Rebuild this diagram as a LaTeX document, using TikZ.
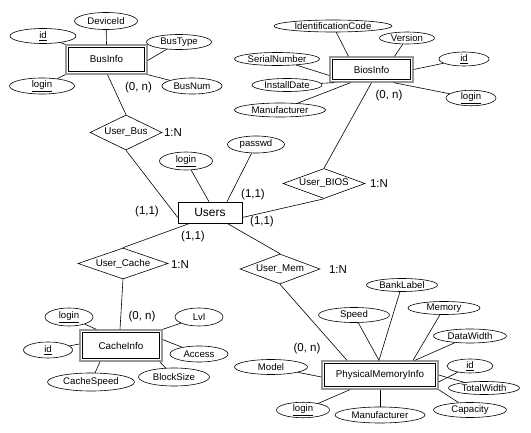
\documentclass[tikz,border=0pt]{standalone}
\usepackage{fontspec}
\setmainfont{Liberation Sans}
\usetikzlibrary{shapes.geometric}
\tikzset{
  attr/.style={draw, ellipse, inner sep=0pt, font=\fontsize{9.6}{10}\selectfont, line width=0.6pt},
  ent/.style={draw=gray!80, line width=1.3pt, fill=white, inner sep=0pt, font=\fontsize{9.8}{11}\selectfont},
  rel/.style={draw, diamond, inner sep=0pt, font=\fontsize{9.8}{11}\selectfont, line width=0.6pt},
  lbl/.style={inner sep=0pt, font=\fontsize{11.5}{12}\selectfont},
  conn/.style={line width=0.6pt},
  innerbox/.style={line width=0.6pt}
}
\newcommand{\entinner}[1]{\draw[innerbox] ([shift={(3,3)}]#1.north west) rectangle ([shift={(-3,-3)}]#1.south east);}
\begin{document}
\begin{tikzpicture}[x=1pt,y=-1pt]
\useasboundingbox (0,0) rectangle (531,433);

% ---------- entities ----------
\node[ent, minimum width=81, minimum height=29] (bus) at (106.5,59.5) {BusInfo};
\entinner{bus}
\node[ent, minimum width=83, minimum height=25] (bios) at (371.5,69.5) {BiosInfo};
\entinner{bios}
\node[ent, minimum width=82, minimum height=31] (cache) at (121,345.5) {CacheInfo};
\entinner{cache}
\node[ent, minimum width=116, minimum height=28] (mem) at (380,375) {PhysicalMemoryInfo};
\entinner{mem}
\node[draw, fill=white, line width=0.6pt, minimum width=64, minimum height=21, inner sep=0pt, font=\fontsize{12}{13}\selectfont] (users) at (210,212.5) {Users};

% ---------- relationships ----------
\node[rel, shape aspect=2.06, minimum width=72, minimum height=35] (ubus) at (126,132.5) {User\_Bus};
\node[rel, shape aspect=2.73, minimum width=82, minimum height=30] (ubios) at (324,183.5) {User\_BIOS};
\node[rel, shape aspect=2.9, minimum width=90, minimum height=31] (ucache) at (123,263.5) {User\_Cache};
\node[rel, shape aspect=2.67, minimum width=80, minimum height=30] (umem) at (280,269) {User\_Mem};

% ---------- BusInfo attributes ----------
\node[attr, minimum width=66, minimum height=15] (busid) at (43,36) {\underline{id}};
\node[attr, minimum width=63, minimum height=17] (busdev) at (106,21) {DeviceId};
\node[attr, minimum width=65, minimum height=15] (bustype) at (179,42) {BusType};
\node[attr, minimum width=60, minimum height=16] (busnum) at (192,86) {BusNum};
\node[attr, minimum width=65, minimum height=16] (buslogin) at (42,86) {\underline{login}};

% ---------- BiosInfo attributes ----------
\node[attr, minimum width=118, minimum height=12] (bidc) at (333,26) {IdentificationCode};
\node[attr, minimum width=55, minimum height=12] (bver) at (407,38) {Version};
\node[attr, minimum width=85, minimum height=13] (bser) at (277,59) {SerialNumber};
\node[attr, minimum width=50, minimum height=14] (bid) at (464,59) {\underline{id}};
\node[attr, minimum width=70, minimum height=13] (binst) at (287,85) {InstallDate};
\node[attr, minimum width=50, minimum height=14] (blogin) at (471,98) {\underline{login}};
\node[attr, minimum width=91, minimum height=14] (bman) at (280,110) {Manufacturer};

% ---------- Users attributes ----------
\node[attr, minimum width=53, minimum height=18] (ulogin) at (186,161) {\underline{login}};
\node[attr, minimum width=57, minimum height=17] (upass) at (256,144.5) {passwd};

% ---------- CacheInfo attributes ----------
\node[attr, minimum width=48, minimum height=18] (clogin) at (69,317) {\underline{login}};
\node[attr, minimum width=48, minimum height=18] (clvl) at (199,317) {Lvl};
\node[attr, minimum width=49, minimum height=16] (cid) at (48,350) {\underline{id}};
\node[attr, minimum width=58, minimum height=16] (cacc) at (199,354) {Access};
\node[attr, minimum width=87, minimum height=18] (cspeed) at (91,382) {CacheSpeed};
\node[attr, minimum width=71, minimum height=18] (cblock) at (174,377) {BlockSize};

% ---------- PhysicalMemoryInfo attributes ----------
\node[attr, minimum width=71, minimum height=13] (mbank) at (402,285) {BankLabel};
\node[attr, minimum width=71, minimum height=15] (mspeed) at (354,315) {Speed};
\node[attr, minimum width=72, minimum height=13] (mmem) at (444,308) {Memory};
\node[attr, minimum width=73, minimum height=14] (mdw) at (470,336) {DataWidth};
\node[attr, minimum width=73, minimum height=15] (mmodel) at (271,367) {Model};
\node[attr, minimum width=46, minimum height=14] (mid) at (470,366) {\underline{id}};
\node[attr, minimum width=71, minimum height=13] (mtw) at (484,388) {TotalWidth};
\node[attr, minimum width=53, minimum height=15] (mlogin) at (303,410) {\underline{login}};
\node[attr, minimum width=90, minimum height=16] (mman) at (380,415) {Manufacturer};
\node[attr, minimum width=73, minimum height=15] (mcap) at (470,410) {Capacity};

% ---------- attribute connectors ----------
\draw[conn] (busid) -- (bus.north west);
\draw[conn] (busdev) -- (bus.north);
\draw[conn] (bustype) -- ([yshift=-1]bus.east);
\draw[conn] (busnum) -- (bus.south east);
\draw[conn] (buslogin) -- (bus.south west);

\draw[conn] (bidc) -- ([xshift=-23]bios.north);
\draw[conn] (bver) -- ([xshift=23]bios.north);
\draw[conn] (bser) -- ([yshift=-6]bios.west);
\draw[conn] (bid) -- (bios.east);
\draw[conn] (binst) -- ([xshift=5]bios.south west);
\draw[conn] (blogin) -- ([xshift=22]bios.south);
\draw[conn] (bman) -- ([xshift=-21]bios.south);

\draw[conn] (ulogin) -- ([xshift=-1]users.north);
\draw[conn] (upass) -- ([xshift=17]users.north);

\draw[conn] (clogin) -- ([xshift=17]cache.north west);
\draw[conn] (clvl) -- (cache.north east);
\draw[conn] (cid) -- ([yshift=1.5]cache.west);
\draw[conn] (cacc) -- ([yshift=6]cache.east);
\draw[conn] (cspeed) -- ([xshift=-21]cache.south);
\draw[conn] (cblock) -- ([xshift=-3]cache.south east);

\draw[conn] (mbank) -- ([xshift=-1]mem.north);
\draw[conn] (mspeed) -- ([xshift=-1]mem.north);
\draw[conn] (mmem) -- ([xshift=33]mem.north);
\draw[conn] (mdw) -- ([xshift=35]mem.north);
\draw[conn] (mmodel) -- ([yshift=-2]mem.west);
\draw[conn] (mid) -- ([yshift=-7]mem.east);
\draw[conn] (mtw) -- ([yshift=0]mem.east);
\draw[conn] (mcap) -- (mem.south east);
\draw[conn] (mlogin) -- ([xshift=-30]mem.south);
\draw[conn] (mman) -- (mem.south);

% ---------- relationship connectors ----------
\draw[conn] ([xshift=1]bus.south) -- (ubus.north);
\draw[conn] (ubus.south) -- ([yshift=-5]users.west);
\draw[conn] (bios.south) -- (ubios.north);
\draw[conn] (ubios.south) -- ([yshift=-5]users.east);
\draw[conn] ([xshift=-20]users.south) -- (ucache.north);
\draw[conn] (ucache.south) -- ([xshift=-1]cache.north);
\draw[conn] ([xshift=17]users.south) -- (umem.north);
\draw[conn] (umem.south) -- ([xshift=-33]mem.north);

% ---------- cardinality labels ----------
\node[lbl] (cbus) at (138.5,88) {(0, n)};
\node[lbl] (cbios) at (389,96) {(0, n)};
\node[lbl] (ccache) at (142,317) {(0, n)};
\node[lbl] (cmem) at (307,349) {(0, n)};
\node[lbl] (u1) at (147,212) {(1,1)};
\node[lbl] (u2) at (253,195) {(1,1)};
\node[lbl] (u3) at (262,222) {(1,1)};
\node[lbl] (u4) at (193,237) {(1,1)};
\node[lbl] (nbus) at (173,133) {1:N};
\node[lbl] (nbios) at (379,184) {1:N};
\node[lbl] (ncache) at (180,265) {1:N};
\node[lbl] (nmem) at (338,270) {1:N};
\end{tikzpicture}
\end{document}
